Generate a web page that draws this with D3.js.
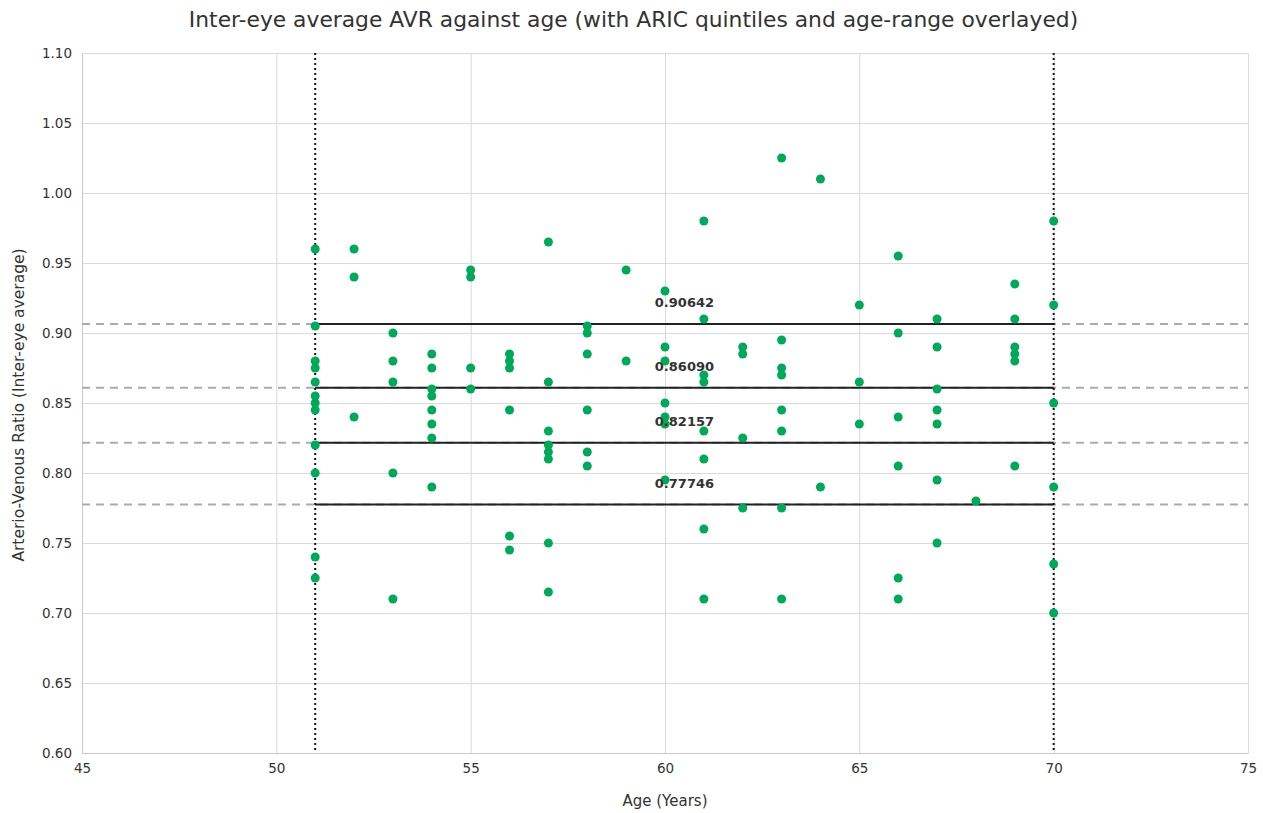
<!DOCTYPE html>
<html>
  <head>
    <meta charset="UTF-8">
    <title>Inter-eye average AVR against age</title>
    <script src="https://cdn.jsdelivr.net/npm/d3@7/dist/d3.min.js"></script>
    <style>
      body, html { margin:0; padding:0; background:#fff; }
      text { font-family: "DejaVu Sans", sans-serif; fill:#333; }
      .grid line { stroke:#d9d9df; stroke-width:1; }
      .tick text { font-size:13.5px; }
    </style>
  </head>
  <body>
  <div id="chart"></div>
<script type="text/javascript">

// ages and inter-eye average AVR
var ages = [
  51,51,51,51,51,51,51,51,51,51,51,51,
  52,52,52,
  53,53,53,53,53,
  54,54,54,54,54,54,54,54,
  55,55,55,55,
  56,56,56,56,56,56,
  57,57,57,57,57,57,57,57,
  58,58,58,58,58,58,
  59,59,
  60,60,60,60,60,60,60,
  61,61,61,61,61,61,61,61,
  62,62,62,62,
  63,63,63,63,63,63,63,63,
  64,64,
  65,65,65,
  66,66,66,66,66,66,
  67,67,67,67,67,67,67,
  68,
  69,69,69,69,69,69,
  70,70,70,70,70,70
];
var avr = [
  0.96,0.905,0.88,0.875,0.865,0.855,0.85,0.845,0.82,0.80,0.74,0.725,
  0.96,0.94,0.84,
  0.90,0.88,0.865,0.80,0.71,
  0.885,0.875,0.86,0.855,0.845,0.835,0.825,0.79,
  0.945,0.94,0.875,0.86,
  0.885,0.88,0.875,0.845,0.755,0.745,
  0.965,0.865,0.83,0.82,0.815,0.81,0.75,0.715,
  0.905,0.90,0.885,0.845,0.815,0.805,
  0.945,0.88,
  0.93,0.89,0.88,0.85,0.84,0.835,0.795,
  0.98,0.91,0.87,0.865,0.83,0.81,0.76,0.71,
  0.89,0.885,0.825,0.775,
  1.025,0.895,0.875,0.87,0.845,0.83,0.775,0.71,
  1.01,0.79,
  0.92,0.865,0.835,
  0.955,0.90,0.84,0.805,0.725,0.71,
  0.91,0.89,0.86,0.845,0.835,0.795,0.75,
  0.78,
  0.935,0.91,0.89,0.885,0.88,0.805,
  0.98,0.92,0.85,0.79,0.735,0.70
];

// ARIC quintile cut-offs and the age range of the sample
var quintiles = [0.90642, 0.86090, 0.82157, 0.77746];
var quintileLabels = ["0.90642", "0.86090", "0.82157", "0.77746"];
var ageRange = [51, 70];
var labelAge = 60.5;

var xTicks = [45, 50, 55, 60, 65, 70, 75];
var yTicks = [0.60, 0.65, 0.70, 0.75, 0.80, 0.85, 0.90, 0.95, 1.00, 1.05, 1.10];

var W = 1263, H = 813;
var margin = { top: 53, right: 15, bottom: 60, left: 82 };
var w = W - margin.left - margin.right,
    h = H - margin.top - margin.bottom;

var svg = d3.select('#chart').append('svg').attr('width', W).attr('height', H);
var g = svg.append('g').attr('transform', 'translate(' + margin.left + ',' + margin.top + ')');

var x = d3.scaleLinear().domain([45, 75]).range([0, w]);
var y = d3.scaleLinear().domain([0.60, 1.10]).range([h, 0]);

// gridlines
g.append('g').attr('class', 'grid')
  .call(d3.axisLeft(y).tickValues(yTicks).tickSize(-w).tickFormat(''))
  .call(s => s.select('.domain').remove());
g.append('g').attr('class', 'grid')
  .call(d3.axisBottom(x).tickValues(xTicks).tickSize(h).tickFormat(''))
  .call(s => s.select('.domain').remove());

// axes
var xAxis = g.append('g').attr('transform', 'translate(0,' + h + ')')
  .call(d3.axisBottom(x).tickValues(xTicks).tickSize(0).tickPadding(10).tickFormat(d3.format('d')));
xAxis.select('.domain').attr('stroke', '#c8c8cf');
var yAxis = g.append('g')
  .call(d3.axisLeft(y).tickValues(yTicks).tickSize(0).tickPadding(10).tickFormat(d3.format('.2f')));
yAxis.select('.domain').attr('stroke', '#c8c8cf');

// dashed quintile lines across the whole plot
g.selectAll('.qdash').data(quintiles).enter().append('line')
  .attr('class', 'qdash')
  .attr('x1', 0).attr('x2', w)
  .attr('y1', d => y(d)).attr('y2', d => y(d))
  .attr('stroke', '#a9abb0').attr('stroke-width', 2).attr('stroke-dasharray', '8,6');

// solid quintile lines over the age range
g.selectAll('.qsolid').data(quintiles).enter().append('line')
  .attr('class', 'qsolid')
  .attr('x1', x(ageRange[0])).attr('x2', x(ageRange[1]))
  .attr('y1', d => y(d)).attr('y2', d => y(d))
  .attr('stroke', '#222').attr('stroke-width', 2);

// dotted age range lines
g.selectAll('.arange').data(ageRange).enter().append('line')
  .attr('class', 'arange')
  .attr('x1', d => x(d)).attr('x2', d => x(d))
  .attr('y1', 0).attr('y2', h)
  .attr('stroke', '#111').attr('stroke-width', 2).attr('stroke-dasharray', '2,3');

// points
g.selectAll('.pt').data(ages).enter().append('circle')
  .attr('class', 'pt')
  .attr('cx', d => x(d))
  .attr('cy', (d, i) => y(avr[i]))
  .attr('r', 4.5)
  .attr('fill', '#00a85a');

// quintile value labels
g.selectAll('.qlabel').data(quintiles).enter().append('text')
  .attr('class', 'qlabel')
  .attr('x', x(labelAge))
  .attr('y', d => y(d) - 17)
  .attr('text-anchor', 'middle')
  .style('font-size', '13px').style('font-weight', 'bold')
  .text((d, i) => quintileLabels[i]);

// titles
svg.append('text')
  .attr('x', W / 2 + 2).attr('y', 27)
  .attr('text-anchor', 'middle')
  .style('font-size', '21.8px')
  .text('Inter-eye average AVR against age (with ARIC quintiles and age-range overlayed)');

svg.append('text')
  .attr('x', margin.left + w / 2).attr('y', 806)
  .attr('text-anchor', 'middle')
  .style('font-size', '15px')
  .text('Age (Years)');

svg.append('text')
  .attr('transform', 'translate(24,405) rotate(-90)')
  .attr('text-anchor', 'middle')
  .style('font-size', '15.5px')
  .text('Arterio-Venous Ratio (Inter-eye average)');

</script>
  </body>
</html>
